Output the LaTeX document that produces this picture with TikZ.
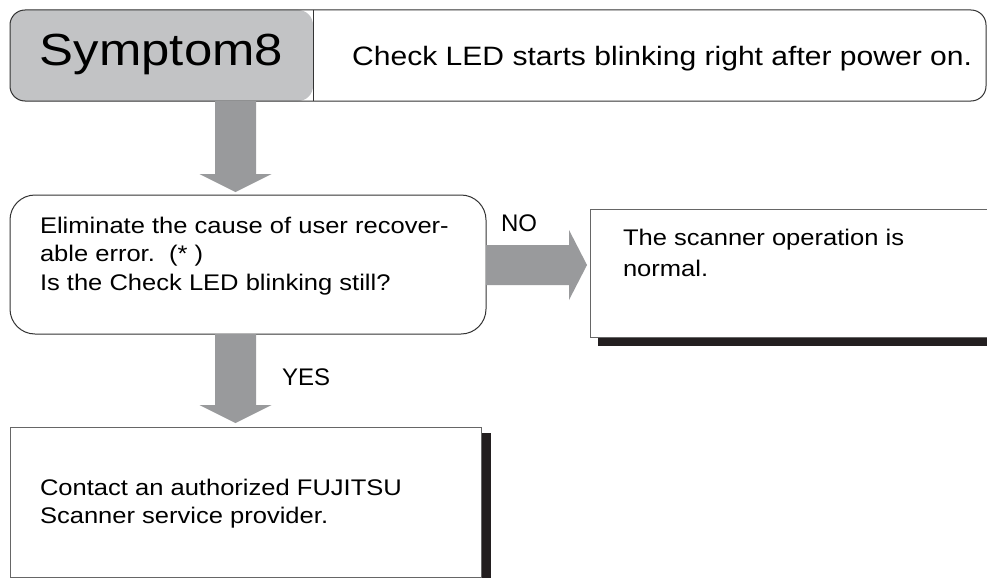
\documentclass[tikz,border=0pt]{standalone}
\usepackage{fontspec}
\setmainfont[FakeStretch=1.13]{Liberation Sans}
\newfontfamily\lblfont{Liberation Sans}
\usetikzlibrary{calc}
\definecolor{hdrgray}{HTML}{C2C3C5}
\definecolor{arrowgray}{HTML}{999A9C}
\definecolor{shadowc}{HTML}{231F20}
\definecolor{linec}{HTML}{333333}
\definecolor{linel}{HTML}{666666}
\newcommand{\downblock}[2]{%
  \fill[blk] ($(#1)+(-20.5,0)$) -- ($(#2)+(-20.5,-18)$) -- ($(#2)+(-36,-18)$) -- (#2)
    -- ($(#2)+(36,-18)$) -- ($(#2)+(20.5,-18)$) -- ($(#1)+(20.5,0)$) -- cycle;}
\newcommand{\rightblock}[2]{%
  \fill[blk] ($(#1)+(0,-20)$) -- ($(#2)+(-18,-20)$) -- ($(#2)+(-18,-35)$) -- (#2)
    -- ($(#2)+(-18,35)$) -- ($(#2)+(-18,20)$) -- ($(#1)+(0,20)$) -- cycle;}
\begin{document}
\begin{tikzpicture}[x=1pt,y=-1pt,
  box/.style={draw=linec, line width=1pt, inner sep=0pt, outer sep=0pt, anchor=north west},
  txt/.style={inner sep=0pt, outer sep=0pt, anchor=base west, align=left, font=\fontsize{22.6}{28.5}\selectfont},
  lbl/.style={inner sep=0pt, outer sep=0pt, anchor=base west, font=\lblfont\fontsize{24}{28}\selectfont},
  blk/.style={fill=arrowgray, draw=none}]
\useasboundingbox (0,0) rectangle (987,578);
\fill[white] (0,0) rectangle (987,578);

% header
\node[box, rounded corners=15pt, minimum width=976pt, minimum height=91pt,
  path picture={\fill[hdrgray] (path picture bounding box.north west) rectangle ($(path picture bounding box.south west)+(303,0)$);}]
  (hdr) at (10,10) {};
\draw[linec, line width=1pt] ($(hdr.north west)+(303,0)$) -- ($(hdr.south west)+(303,0)$);
\node[inner sep=0pt, anchor=base, font=\fontsize{45}{50}\selectfont] (sym) at (161.5,65) {Symptom8};
\node[inner sep=0pt, anchor=base west, font=\fontsize{26.6}{30}\selectfont] (hdrtxt) at (352,66) {Check LED starts blinking right after power on.};

% decision
\node[box, rounded corners=25pt, minimum width=476pt, minimum height=139pt] (q) at (10,195) {};
\node[txt] (qtxt) at (40,290.3) {Eliminate the cause of user recover-\\able error.\ \ (* )\\Is the Check LED blinking still?};

% normal box
\fill[shadowc] (598,337) rectangle (990,346);
\node[box, draw=linel, minimum width=400pt, minimum height=128pt] (nrm) at (590,209) {};
\node[txt, font=\fontsize{22.6}{31.7}\selectfont] (ntxt) at (623,276.7) {The scanner operation is\\normal.};

% contact box
\fill[shadowc] (481,433) rectangle (491,578);
\node[box, draw=linel, minimum width=471pt, minimum height=150pt] (c) at (10,427) {};
\node[txt] (ctxt) at (40,523.5) {Contact an authorized FUJITSU\\Scanner service provider.};

% labels
\node[lbl] (nolbl) at (501,231) {NO};
\node[lbl] (yeslbl) at (282,385) {YES};

% arrows
\coordinate (ax) at (235.5,0);
\coordinate (ay) at (0,265);
\coordinate (a1s) at (hdr.south -| ax);
\coordinate (a1e) at ($(q.north -| ax)+(0,-3)$);
\downblock{a1s}{a1e}
\coordinate (a2s) at (q.south -| ax);
\coordinate (a2e) at ($(c.north -| ax)+(0,-4)$);
\downblock{a2s}{a2e}
\coordinate (a3s) at (q.east |- ay);
\coordinate (a3e) at ($(nrm.west |- ay)+(-3,0)$);
\rightblock{a3s}{a3e}
\end{tikzpicture}
\end{document}
